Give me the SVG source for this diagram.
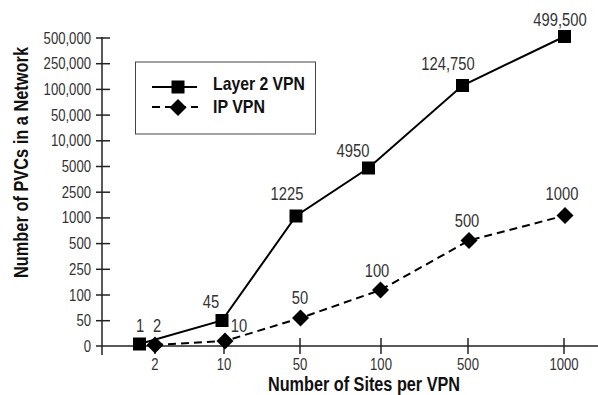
<svg xmlns="http://www.w3.org/2000/svg" width="598" height="395" viewBox="0 0 598 395">
<style>
  text { font-family: "Liberation Sans", Arial, sans-serif; }
  .tick { font-size: 16px; fill: #333; }
  .ytick { text-anchor: end; }
  .xtick { text-anchor: middle; }
  .val { font-size: 18px; fill: #333; text-anchor: middle; }
  .title { font-size: 20px; font-weight: bold; fill: #111; text-anchor: middle; }
  .leg { font-size: 19px; font-weight: bold; fill: #111; }
  .axis { stroke: #222; stroke-width: 1.5; fill: none; }
  .l2 { stroke: #000; stroke-width: 2; fill: none; }
  .ip { stroke: #000; stroke-width: 2; fill: none; stroke-dasharray: 8 5; }
  .sq { fill: #000; }
  .dm { fill: #000; }
</style>
<defs>
  <rect id="sqm" x="-6.5" y="-6.5" width="13" height="13"/>
  <polygon id="dmm" points="0,-8.5 8.5,0 0,8.5 -8.5,0"/>
</defs>
<rect width="598" height="395" fill="#fff"/>
<g id="axes">
  <line class="axis" x1="102" y1="37" x2="102" y2="355"/>
  <line class="axis" x1="96" y1="346" x2="598" y2="346"/>
  <g class="axis">
    <line x1="96" y1="38" x2="110" y2="38"/>
    <line x1="96" y1="63.7" x2="110" y2="63.7"/>
    <line x1="96" y1="89.4" x2="110" y2="89.4"/>
    <line x1="96" y1="115.1" x2="110" y2="115.1"/>
    <line x1="96" y1="140.8" x2="110" y2="140.8"/>
    <line x1="96" y1="166.5" x2="110" y2="166.5"/>
    <line x1="96" y1="192.2" x2="110" y2="192.2"/>
    <line x1="96" y1="217.9" x2="110" y2="217.9"/>
    <line x1="96" y1="243.6" x2="110" y2="243.6"/>
    <line x1="96" y1="269.3" x2="110" y2="269.3"/>
    <line x1="96" y1="295" x2="110" y2="295"/>
    <line x1="96" y1="320.7" x2="110" y2="320.7"/>
    <line x1="155" y1="338" x2="155" y2="354"/>
    <line x1="224" y1="338" x2="224" y2="354"/>
    <line x1="300" y1="338" x2="300" y2="354"/>
    <line x1="381" y1="338" x2="381" y2="354"/>
    <line x1="468" y1="338" x2="468" y2="354"/>
    <line x1="564" y1="338" x2="564" y2="354"/>
  </g>
  <g class="tick ytick">
    <text x="91" y="43.5" textLength="47.4" lengthAdjust="spacingAndGlyphs">500,000</text>
    <text x="91" y="69.2" textLength="47.4" lengthAdjust="spacingAndGlyphs">250,000</text>
    <text x="91" y="94.9" textLength="47.4" lengthAdjust="spacingAndGlyphs">100,000</text>
    <text x="91" y="120.6" textLength="40.1" lengthAdjust="spacingAndGlyphs">50,000</text>
    <text x="91" y="146.3" textLength="40.1" lengthAdjust="spacingAndGlyphs">10,000</text>
    <text x="91" y="172" textLength="29.2" lengthAdjust="spacingAndGlyphs">5000</text>
    <text x="91" y="197.7" textLength="29.2" lengthAdjust="spacingAndGlyphs">2500</text>
    <text x="91" y="223.4" textLength="29.2" lengthAdjust="spacingAndGlyphs">1000</text>
    <text x="91" y="249.1" textLength="21.9" lengthAdjust="spacingAndGlyphs">500</text>
    <text x="91" y="274.8" textLength="21.9" lengthAdjust="spacingAndGlyphs">250</text>
    <text x="91" y="300.5" textLength="21.9" lengthAdjust="spacingAndGlyphs">100</text>
    <text x="91" y="326.2" textLength="14.6" lengthAdjust="spacingAndGlyphs">50</text>
    <text x="91" y="351.9" textLength="7.3" lengthAdjust="spacingAndGlyphs">0</text>
  </g>
  <g class="tick xtick">
    <text x="155" y="370" textLength="7.3" lengthAdjust="spacingAndGlyphs">2</text>
    <text x="224" y="370" textLength="14.6" lengthAdjust="spacingAndGlyphs">10</text>
    <text x="300" y="370" textLength="14.6" lengthAdjust="spacingAndGlyphs">50</text>
    <text x="381" y="370" textLength="21.9" lengthAdjust="spacingAndGlyphs">100</text>
    <text x="468" y="370" textLength="21.9" lengthAdjust="spacingAndGlyphs">500</text>
    <text x="564" y="370" textLength="29.2" lengthAdjust="spacingAndGlyphs">1000</text>
  </g>
  <text class="title" x="364" y="391" textLength="192" lengthAdjust="spacingAndGlyphs">Number of Sites per VPN</text>
  <text class="title" transform="translate(28,162.5) rotate(-90)" textLength="231" lengthAdjust="spacingAndGlyphs">Number of PVCs in a Network</text>
</g>
<g id="connectors">
  <polyline class="l2" points="139.5,344 222,320.5 296,216 368.5,168 462.5,85.5 564.5,36.5"/>
  <polyline class="ip" points="155,345 225,341 300.5,318 380.5,290 469,240.5 565,215.5"/>
</g>
<g id="layer2-1"><use href="#sqm" class="sq" x="139.5" y="344"/><text class="val" x="140" y="332" textLength="8.2" lengthAdjust="spacingAndGlyphs">1</text></g>
<g id="layer2-45"><use href="#sqm" class="sq" x="222" y="320.5"/><text class="val" x="211" y="308" textLength="16.4" lengthAdjust="spacingAndGlyphs">45</text></g>
<g id="layer2-1225"><use href="#sqm" class="sq" x="296" y="216"/><text class="val" x="287" y="200" textLength="32.8" lengthAdjust="spacingAndGlyphs">1225</text></g>
<g id="layer2-4950"><use href="#sqm" class="sq" x="368.5" y="168"/><text class="val" x="353" y="157" textLength="32.8" lengthAdjust="spacingAndGlyphs">4950</text></g>
<g id="layer2-124750"><use href="#sqm" class="sq" x="462.5" y="85.5"/><text class="val" x="448" y="70" textLength="53.3" lengthAdjust="spacingAndGlyphs">124,750</text></g>
<g id="layer2-499500"><use href="#sqm" class="sq" x="564.5" y="36.5"/><text class="val" x="560" y="26" textLength="53.3" lengthAdjust="spacingAndGlyphs">499,500</text></g>
<g id="ip-2"><use href="#dmm" class="dm" x="155" y="345"/><text class="val" x="157" y="332" textLength="8.2" lengthAdjust="spacingAndGlyphs">2</text></g>
<g id="ip-10"><use href="#dmm" class="dm" x="225" y="341"/><text class="val" x="239" y="332" textLength="16.4" lengthAdjust="spacingAndGlyphs">10</text></g>
<g id="ip-50"><use href="#dmm" class="dm" x="300.5" y="318"/><text class="val" x="300" y="304" textLength="16.4" lengthAdjust="spacingAndGlyphs">50</text></g>
<g id="ip-100"><use href="#dmm" class="dm" x="380.5" y="290"/><text class="val" x="377" y="277" textLength="24.6" lengthAdjust="spacingAndGlyphs">100</text></g>
<g id="ip-500"><use href="#dmm" class="dm" x="469" y="240.5"/><text class="val" x="467" y="227" textLength="24.6" lengthAdjust="spacingAndGlyphs">500</text></g>
<g id="ip-1000"><use href="#dmm" class="dm" x="565" y="215.5"/><text class="val" x="562" y="200" textLength="32.8" lengthAdjust="spacingAndGlyphs">1000</text></g>
<g id="legend">
  <rect x="135.5" y="62" width="180" height="72" fill="#fff" stroke="#444" stroke-width="1"/>
  <line class="l2" x1="152" y1="87" x2="197" y2="87"/>
  <use href="#sqm" class="sq" x="178" y="87"/>
  <line class="ip" x1="152" y1="107" x2="198" y2="107"/>
  <use href="#dmm" class="dm" x="178" y="107.5"/>
  <text class="leg" x="213" y="90" textLength="92" lengthAdjust="spacingAndGlyphs">Layer 2 VPN</text>
  <text class="leg" x="213" y="113" textLength="52" lengthAdjust="spacingAndGlyphs">IP VPN</text>
</g>
</svg>
